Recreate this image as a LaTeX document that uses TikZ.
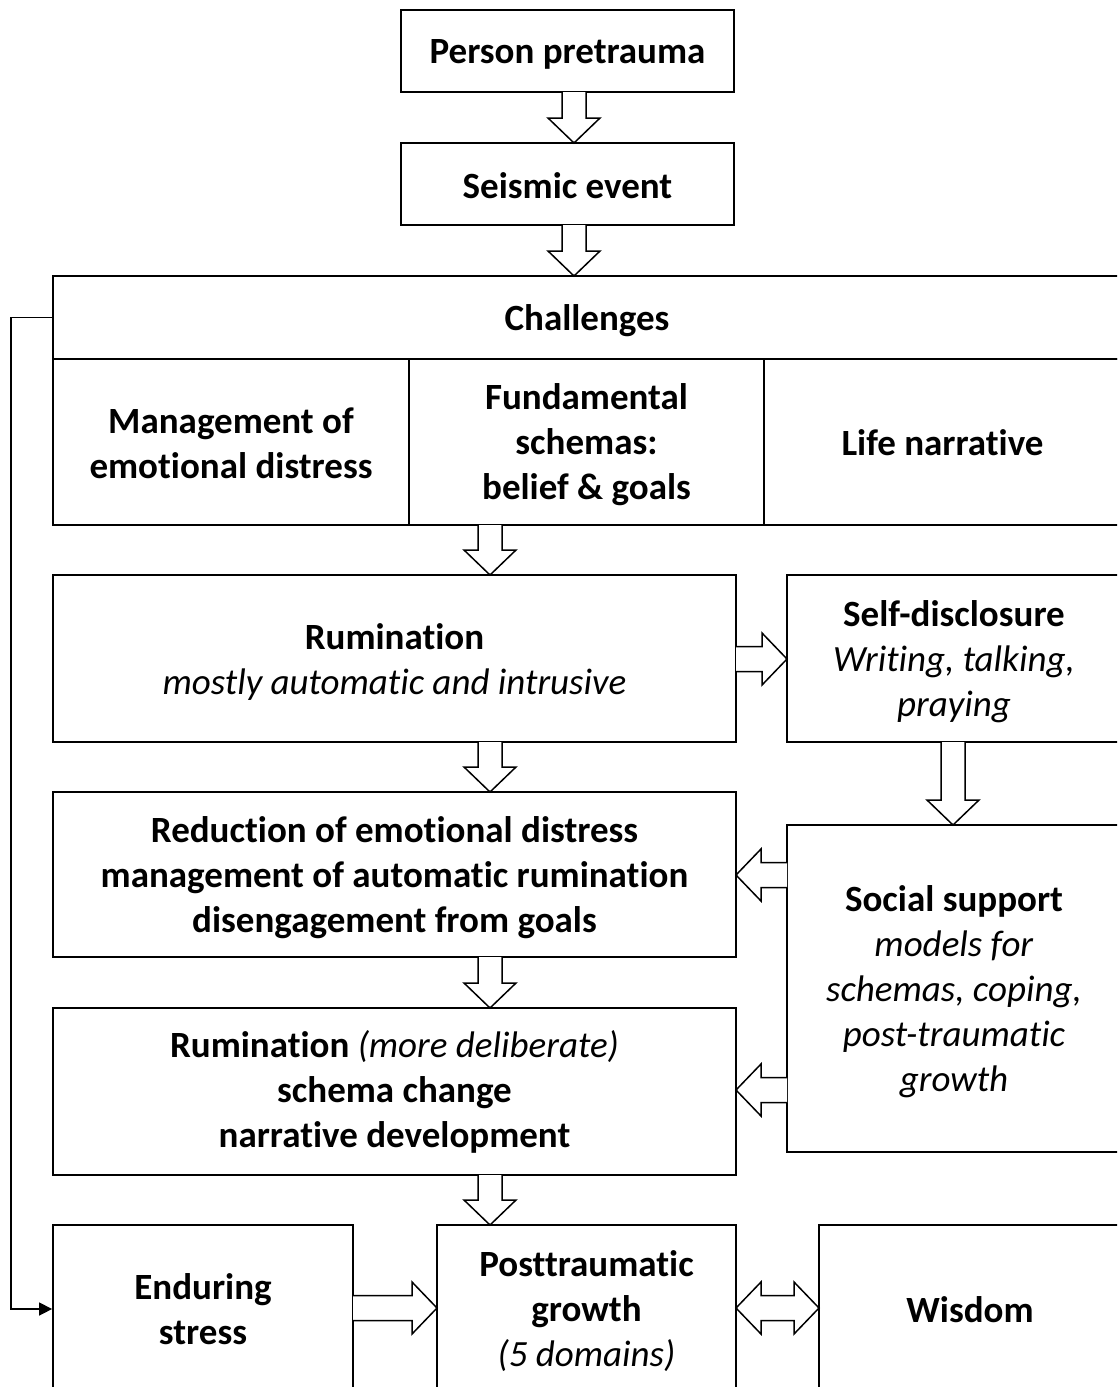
\documentclass[tikz,border=0pt]{standalone}
\usepackage{fontspec}
\setmainfont{Carlito}[Ligatures={NoCommon}]
\usetikzlibrary{arrows.meta}
\tikzset{
  box/.style={draw, line width=1.8pt, inner sep=0pt, rectangle},
  txt/.style={inner sep=0pt, align=center, font=\fontsize{37}{45}\selectfont},
  hollow/.style={draw, fill=white, line width=1.5pt, line join=miter},
  conn/.style={line width=1.5pt, -{Triangle[length=13pt,width=13pt]}}
}
% name, cx, cy, w, h, text-shift, text
\newcommand\boxnode[7]{%
  \node[box, minimum width=#4pt, minimum height=#5pt] (#1) at (#2,#3) {};
  \node[txt] (#1-t) at (#2,#3+#6) {#7};}
\newcommand\darr[3]{\draw[hollow] (#1-12,#2) -- (#1-12,#3-25) -- (#1-26,#3-25) -- (#1,#3) -- (#1+26,#3-25) -- (#1+12,#3-25) -- (#1+12,#2);}
\newcommand\rarr[3]{\draw[hollow] (#2,#1-12.5) -- (#3-25,#1-12.5) -- (#3-25,#1-26) -- (#3,#1) -- (#3-25,#1+26) -- (#3-25,#1+12.5) -- (#2,#1+12.5);}
\newcommand\larr[3]{\draw[hollow] (#2,#1-12.5) -- (#3+25,#1-12.5) -- (#3+25,#1-26) -- (#3,#1) -- (#3+25,#1+26) -- (#3+25,#1+12.5) -- (#2,#1+12.5);}
\newcommand\bothway[3]{\draw[hollow] (#2,#1) -- (#2+25,#1-26) -- (#2+25,#1-12.5) -- (#3-25,#1-12.5) -- (#3-25,#1-26) -- (#3,#1) -- (#3-25,#1+26) -- (#3-25,#1+12.5) -- (#2+25,#1+12.5) -- (#2+25,#1+26) -- cycle;}
\begin{document}
\begin{tikzpicture}[x=1pt,y=-1pt]
\useasboundingbox (0,0) rectangle (1117,1387);
\clip (0,0) rectangle (1117,1387);
% top boxes
\boxnode{pre}{567.5}{51}{333}{82}{3}{\textbf{Person pretrauma}}
\boxnode{seis}{567.5}{184}{333}{82}{2}{\textbf{Seismic event}}
% challenges
\boxnode{chal}{587}{317.5}{1068}{83}{3}{\textbf{Challenges}}
\boxnode{mgmt}{231}{442}{356}{166}{1}{\textbf{Management of}\\\textbf{emotional distress}}
\boxnode{fund}{586.5}{442}{355}{166}{3}{\textbf{Fundamental}\\\textbf{schemas:}\\\textbf{belief \& goals}}
\boxnode{life}{942.5}{442}{357}{166}{1}{\textbf{Life narrative}}
% rumination
\boxnode{rum}{394.5}{658.5}{683}{167}{3}{\textbf{Rumination}\\\textit{mostly automatic and intrusive}}
\boxnode{self}{954}{658.5}{334}{167}{3}{\textbf{Self-disclosure}\\\textit{Writing, talking,}\\\textit{praying}}
\boxnode{red}{394.5}{874.5}{683}{165}{3}{\textbf{Reduction of emotional distress}\\\textbf{management of automatic rumination}\\\textbf{disengagement from goals}}
\boxnode{soc}{954}{988.5}{334}{327}{3}{\textbf{Social support}\\\textit{models for}\\\textit{schemas, coping,}\\\textit{post-traumatic}\\\textit{growth}}
\boxnode{rum2}{394.5}{1091.5}{683}{167}{0}{\textbf{Rumination} \textit{(more deliberate)}\\\textbf{schema change}\\\textbf{narrative development}}
% bottom
\boxnode{endur}{203}{1309}{300}{168}{0}{\textbf{Enduring}\\\textbf{stress}}
\boxnode{ptg}{586.5}{1309}{299}{168}{2}{\textbf{Posttraumatic}\\\textbf{growth}\\\textit{(5 domains)}}
\boxnode{wis}{970}{1309}{302}{168}{1}{\textbf{Wisdom}}
% hollow arrows
\darr{574}{92}{143}
\darr{574}{225}{276}
\darr{490}{525}{575}
\darr{490}{742}{792}
\darr{490}{957}{1008}
\darr{490}{1175}{1225}
\darr{953}{742}{825}
\rarr{659}{736}{787}
\larr{875}{787}{736}
\larr{1090}{787}{736}
\rarr{1308}{353}{437}
\bothway{1308}{736}{819}
% feedback connector
\draw[conn] (chal.west) -- ++(-41,0) |- (endur.west);
\end{tikzpicture}
\end{document}
